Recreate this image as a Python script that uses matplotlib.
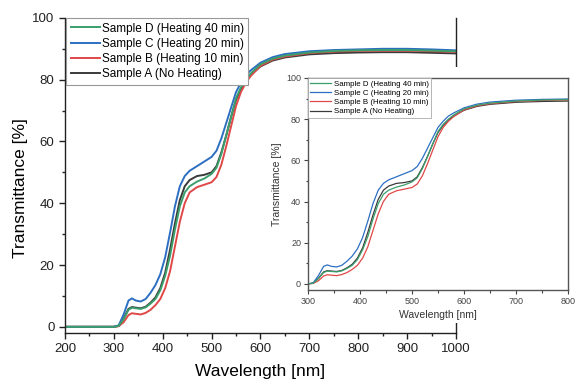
import matplotlib
matplotlib.use("Agg")
import matplotlib.pyplot as plt
from matplotlib.patches import Rectangle
from matplotlib.ticker import MultipleLocator

plt.rcParams["font.family"] = ["Liberation Sans", "DejaVu Sans"]

# wavelength grid (nm) and transmittance (%)
wl = [200, 300, 310, 320, 330, 337, 345, 355, 365, 375, 385, 395, 405, 415, 425,
      435, 445, 455, 470, 485, 500, 510, 520, 530, 540, 550, 560, 570, 580, 600,
      625, 650, 700, 750, 800, 850, 900, 950, 1000]

sample_a = [0, 0, 0.3, 2.7, 5.8, 6.4, 6.2, 6.0, 6.5, 7.8, 9.5, 12.5, 17.5, 25.0, 33.5,
            41.0, 45.5, 47.5, 48.8, 49.2, 50.0, 52.0, 56.5, 62.0, 68.0, 73.5, 77.0, 79.5, 81.5, 84.3,
            86.2, 87.2, 88.2, 88.6, 88.8, 88.9, 88.9, 88.7, 88.5]
sample_b = [0, 0, 0.2, 1.5, 3.8, 4.4, 4.2, 4.0, 4.5, 5.5, 7.0, 9.0, 12.5, 18.0, 26.0,
            34.0, 40.0, 43.5, 45.2, 46.0, 46.8, 48.5, 52.5, 58.5, 65.0, 71.5, 76.0, 79.0, 81.2, 84.5,
            86.5, 87.5, 88.6, 89.1, 89.3, 89.4, 89.4, 89.2, 89.0]
sample_c = [0, 0, 0.5, 4.0, 8.5, 9.2, 8.5, 8.2, 9.0, 11.0, 13.5, 17.0, 22.5, 30.5, 39.0,
            45.5, 48.8, 50.5, 52.0, 53.5, 55.0, 57.0, 61.0, 66.0, 71.0, 76.0, 79.0, 81.5, 83.0, 85.5,
            87.3, 88.3, 89.2, 89.6, 89.8, 90.0, 90.0, 89.8, 89.5]
sample_d = [0, 0, 0.3, 2.5, 5.5, 6.2, 6.0, 5.8, 6.3, 7.5, 9.0, 11.8, 16.5, 23.0, 31.5,
            39.0, 43.5, 45.5, 47.0, 48.0, 49.5, 51.5, 56.0, 62.0, 68.0, 74.0, 77.5, 80.0, 82.0, 85.0,
            86.8, 87.8, 88.8, 89.3, 89.5, 89.6, 89.6, 89.4, 89.2]

labels = ["Sample A (No Heating)", "Sample B (Heating 10 min)",
          "Sample C (Heating 20 min)", "Sample D (Heating 40 min)"]
colors = ["#3a3a3a", "#e04848", "#2c6fc2", "#3b9e6b"]
series = [sample_a, sample_b, sample_c, sample_d]

fig = plt.figure(figsize=(5.75, 3.81), dpi=100)

# main chart
ax = fig.add_axes([0.113, 0.126, 0.68, 0.827])
for y, c, lab in zip(series, colors, labels):
    ax.plot(wl, y, color=c, lw=1.4, label=lab)
ax.set_xlim(200, 1000)
ax.set_ylim(-2, 100)
ax.xaxis.set_major_locator(MultipleLocator(100))
ax.xaxis.set_minor_locator(MultipleLocator(50))
ax.yaxis.set_major_locator(MultipleLocator(20))
ax.yaxis.set_minor_locator(MultipleLocator(10))
ax.spines["top"].set_visible(False)
for s in ["left", "bottom", "right"]:
    ax.spines[s].set_color("#222222")
    ax.spines[s].set_linewidth(1.0)
ax.tick_params(which="major", direction="out", length=4, width=1, labelsize=9.5, colors="#222222")
ax.tick_params(which="minor", direction="out", length=2.5, width=1, colors="#222222")
ax.tick_params(axis="y", right=False)
ax.set_xlabel("Wavelength [nm]", fontsize=12.5, labelpad=6)
ax.set_ylabel("Transmittance [%]", fontsize=12.5)
ax.yaxis.set_label_coords(-0.095, 0.46)
h, l = ax.get_legend_handles_labels()
leg = ax.legend(h[::-1], l[::-1], loc="upper left", bbox_to_anchor=(0.003, 1.0),
                borderaxespad=0, fontsize=8.5, labelspacing=0.27, handlelength=2.45,
                handletextpad=0.15, borderpad=0.4, fancybox=False, framealpha=1)
leg.get_frame().set_edgecolor("#999999")
leg.get_frame().set_linewidth(0.8)

# white block behind the inset (covers its labels)
fig.patches.append(Rectangle((0.456, 0.152), 0.544, 0.672, transform=fig.transFigure,
                             facecolor="white", edgecolor="none", zorder=1))

# inset chart
ins = fig.add_axes([0.5357, 0.2388, 0.4521, 0.5565])
ins.set_zorder(2)
for y, c, lab in zip(series, colors, labels):
    ins.plot(wl, y, color=c, lw=0.9, label=lab)
ins.set_xlim(300, 800)
ins.set_ylim(-3, 100)
ins.xaxis.set_major_locator(MultipleLocator(100))
ins.xaxis.set_minor_locator(MultipleLocator(50))
ins.yaxis.set_major_locator(MultipleLocator(20))
ins.yaxis.set_minor_locator(MultipleLocator(10))
for s in ins.spines.values():
    s.set_color("#555555")
    s.set_linewidth(1.0)
ins.tick_params(which="major", direction="out", length=3, width=0.8, labelsize=6.5,
                colors="#444444", pad=2)
ins.tick_params(which="minor", direction="out", length=1.8, width=0.8, colors="#444444")
ins.set_xlabel("Wavelength [nm]", fontsize=7.5, labelpad=3, color="#333333")
ins.set_ylabel("Transmittance [%]", fontsize=7.5, labelpad=3, color="#333333")
h, l = ins.get_legend_handles_labels()
leg2 = ins.legend(h[::-1], l[::-1], loc="upper left", bbox_to_anchor=(0.0, 1.0),
                  borderaxespad=0, fontsize=5.7, labelspacing=0.2, handlelength=2.6,
                  handletextpad=0.35, borderpad=0.3, fancybox=False, framealpha=1)
leg2.get_frame().set_edgecolor("#aaaaaa")
leg2.get_frame().set_linewidth(0.6)

fig.savefig("out.png", dpi=100)
